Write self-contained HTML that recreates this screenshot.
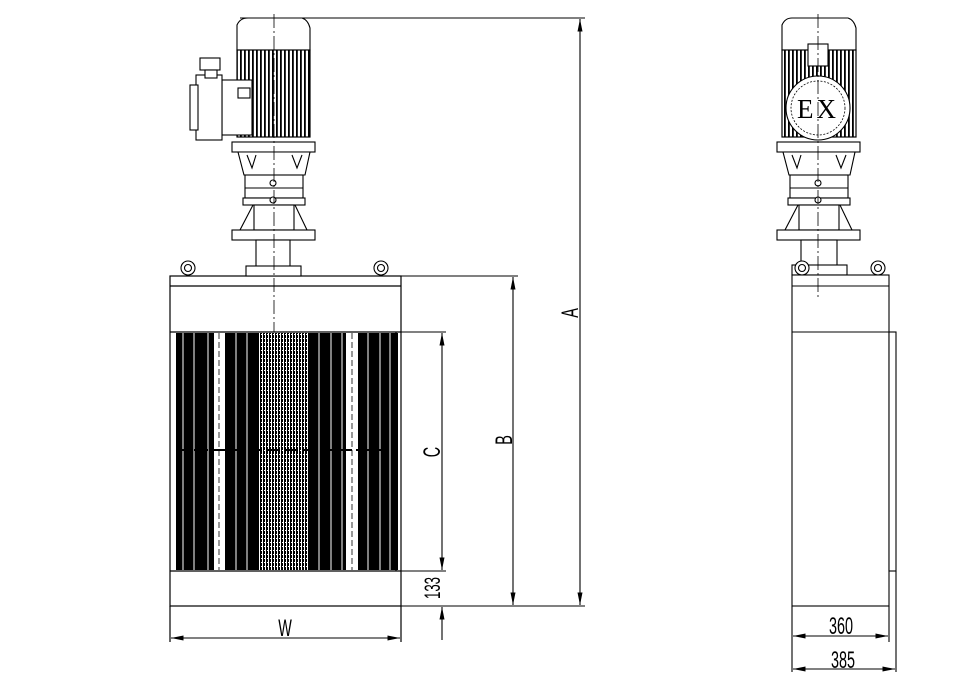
<!DOCTYPE html>
<html><head><meta charset="utf-8"><style>
html,body{margin:0;padding:0;background:#fff;}
svg{display:block;}
</style></head><body>
<svg width="978" height="680" viewBox="0 0 978 680" xmlns="http://www.w3.org/2000/svg">
<defs>
<marker id="ar" viewBox="0 0 10 4" refX="10" refY="2" markerWidth="14" markerHeight="5" orient="auto-start-reverse" markerUnits="userSpaceOnUse"><path d="M0,0 L10,2 L0,4z" fill="#000"/></marker>
<pattern id="fins" width="4" height="10" patternUnits="userSpaceOnUse"><rect width="4" height="10" fill="#fff"/><rect width="1.8" height="10" fill="#000"/></pattern>
<pattern id="mesh" width="3" height="4" patternUnits="userSpaceOnUse"><rect width="3" height="4" fill="#000"/><rect x="1" width="1" height="4" fill="#fff"/><rect y="2" width="1.5" height="1" fill="#fff"/></pattern>
</defs>
<g fill="none" stroke="#000" stroke-width="1.2">
<rect x="170" y="276" width="231" height="330"/>
<line x1="170" y1="286" x2="401" y2="286"/>
<line x1="170" y1="332" x2="401" y2="332"/>
<line x1="170" y1="571" x2="401" y2="571"/>
<line x1="396" y1="332" x2="396" y2="571"/>
<line x1="401" y1="606" x2="401" y2="642"/>
<line x1="170" y1="606" x2="170" y2="642"/>
</g>
<g>
<rect x="176" y="333" width="38" height="237" fill="#000"/>
<rect x="225" y="333" width="34" height="237" fill="#000"/>
<rect x="259" y="333" width="50" height="237" fill="url(#mesh)"/>
<rect x="309" y="333" width="37" height="237" fill="#000"/>
<rect x="358" y="333" width="40" height="237" fill="#000"/>
<g stroke="#fff" stroke-width="1">
<line x1="183" y1="333" x2="183" y2="570"/><line x1="194" y1="333" x2="194" y2="570"/><line x1="208" y1="333" x2="208" y2="570"/>
<line x1="236" y1="333" x2="236" y2="570"/><line x1="247" y1="333" x2="247" y2="570"/>
<line x1="319" y1="333" x2="319" y2="570"/><line x1="331" y1="333" x2="331" y2="570"/><line x1="342" y1="333" x2="342" y2="570"/>
<line x1="368" y1="333" x2="368" y2="570"/><line x1="380" y1="333" x2="380" y2="570"/><line x1="390" y1="333" x2="390" y2="570"/>
</g>
<line x1="219" y1="333" x2="219" y2="570" stroke="#000" stroke-dasharray="6,3" stroke-width="0.8"/>
<line x1="352" y1="333" x2="352" y2="570" stroke="#000" stroke-dasharray="6,3" stroke-width="0.8"/>
<line x1="176" y1="450" x2="398" y2="450" stroke="#000" stroke-width="2" stroke-dasharray="14,4"/>
</g>
<g fill="#fff" stroke="#000" stroke-width="1.1">
<path d="M237,50 L237,25 Q240,18 248,18 L302,18 Q308,20 310,28 L310,50 Z"/>
<rect x="237" y="50" width="73" height="87" fill="url(#fins)"/>
<rect x="237" y="50" width="73" height="87" fill="none"/>
<rect x="222" y="80" width="30" height="55"/>
<rect x="196" y="75" width="26" height="65"/>
<rect x="190" y="85" width="8" height="45"/>
<rect x="200" y="58" width="20" height="12"/>
<rect x="205" y="70" width="12" height="8"/>
<rect x="238" y="88" width="12" height="10"/>
<rect x="232" y="142" width="83" height="10"/>
<path d="M238,152 L310,152 L305,175 L244,175 Z"/>
<path d="M247,155 L252,168 L256,155 M292,155 L297,168 L302,155"/>
<rect x="245" y="175" width="58" height="23"/>
<line x1="245" y1="188" x2="303" y2="188"/>
<rect x="243" y="198" width="62" height="7"/>
<path d="M253,205 L240,230 L307,230 L295,205 Z"/>
<rect x="254" y="205" width="40" height="25"/>
<rect x="232" y="230" width="83" height="10"/>
<rect x="256" y="240" width="34" height="30"/>
<rect x="246" y="266" width="55" height="10"/>
<circle cx="188" cy="268" r="7"/><circle cx="188" cy="268" r="3.5"/>
<circle cx="381" cy="268" r="7"/><circle cx="381" cy="268" r="3.5"/>
<circle cx="273" cy="183" r="3"/><circle cx="273" cy="200" r="3"/>
</g>
<line x1="274" y1="14" x2="274" y2="332" stroke="#000" stroke-width="0.8" stroke-dasharray="14,3,2,3"/>
<g fill="#fff" stroke="#000" stroke-width="1.1">
<path d="M782,50 L782,25 Q785,18 792,18 L848,18 Q854,20 856,28 L856,50 Z"/>
<rect x="782" y="50" width="74" height="87" fill="url(#fins)"/>
<rect x="782" y="50" width="74" height="87" fill="none"/>
<rect x="808" y="44" width="20" height="22"/>
<circle cx="818" cy="108" r="32"/>
<circle cx="818" cy="108" r="27" stroke-dasharray="2,1.5" stroke-width="0.8"/>
<rect x="777" y="142" width="83" height="10"/>
<path d="M783,152 L855,152 L850,175 L789,175 Z"/>
<path d="M792,155 L797,168 L801,155 M836,155 L841,168 L846,155"/>
<rect x="790" y="175" width="58" height="23"/>
<line x1="790" y1="188" x2="848" y2="188"/>
<rect x="788" y="198" width="62" height="7"/>
<path d="M798,205 L785,230 L852,230 L840,205 Z"/>
<rect x="799" y="205" width="40" height="25"/>
<rect x="777" y="230" width="83" height="10"/>
<rect x="801" y="240" width="36" height="30"/>
<rect x="792" y="265" width="55" height="10"/>
<circle cx="802" cy="268" r="7"/><circle cx="802" cy="268" r="3.5"/>
<circle cx="878" cy="268" r="7"/><circle cx="878" cy="268" r="3.5"/>
<circle cx="818" cy="183" r="3"/><circle cx="818" cy="200" r="3"/>
<rect x="792" y="275" width="97" height="331"/>
<line x1="792" y1="286" x2="889" y2="286"/>
<line x1="792" y1="332" x2="889" y2="332"/>
<rect x="889" y="332" width="7" height="239"/>
</g>
<text x="818" y="118" style="font-family:'Liberation Serif',serif;font-size:27px" text-anchor="middle" letter-spacing="3" fill="#000">EX</text>
<line x1="818" y1="14" x2="818" y2="300" stroke="#000" stroke-width="0.8" stroke-dasharray="14,3,2,3"/>
<g stroke="#000" stroke-width="1.1">
<line x1="792" y1="606" x2="792" y2="672"/>
<line x1="889" y1="606" x2="889" y2="642"/>
<line x1="896" y1="571" x2="896" y2="672"/>
<line x1="793" y1="636" x2="888" y2="636" marker-start="url(#ar)" marker-end="url(#ar)"/>
<line x1="793" y1="669" x2="895" y2="669" marker-start="url(#ar)" marker-end="url(#ar)"/>
<line x1="240" y1="18" x2="585" y2="18"/>
<line x1="401" y1="276" x2="518" y2="276"/>
<line x1="401" y1="332" x2="446" y2="332"/>
<line x1="401" y1="571" x2="446" y2="571"/>
<line x1="401" y1="606" x2="585" y2="606"/>
<line x1="580" y1="19" x2="580" y2="605" marker-start="url(#ar)" marker-end="url(#ar)"/>
<line x1="513" y1="277" x2="513" y2="605" marker-start="url(#ar)" marker-end="url(#ar)"/>
<line x1="442" y1="333" x2="442" y2="570" marker-start="url(#ar)" marker-end="url(#ar)"/>
<line x1="442" y1="640" x2="442" y2="607" marker-end="url(#ar)"/>
<line x1="171" y1="638" x2="400" y2="638" marker-start="url(#ar)" marker-end="url(#ar)"/>
</g>
<g fill="#000" style="font-family:'Liberation Sans',sans-serif;font-size:24px;font-weight:300">
<text transform="translate(285,636) scale(0.6,1)" text-anchor="middle">W</text>
<text transform="translate(841,634) scale(0.6,1)" text-anchor="middle">360</text>
<text transform="translate(843,668) scale(0.6,1)" text-anchor="middle">385</text>
<text transform="translate(578,313) rotate(-90) scale(0.6,1)" text-anchor="middle">A</text>
<text transform="translate(512,440) rotate(-90) scale(0.6,1)" text-anchor="middle">B</text>
<text transform="translate(440,452) rotate(-90) scale(0.6,1)" text-anchor="middle">C</text>
<text transform="translate(440,588) rotate(-90) scale(0.6,1)" text-anchor="middle" style="font-size:22px">133</text>
</g>
</svg>
</body></html>
